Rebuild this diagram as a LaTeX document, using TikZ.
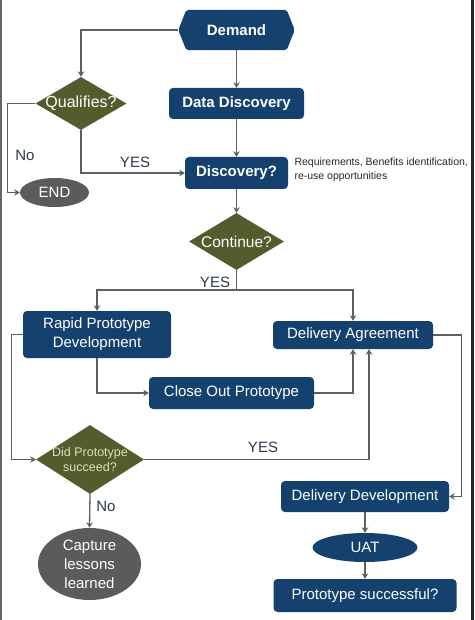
\documentclass[tikz,border=0pt]{standalone}
\usepackage{fontspec}
\setmainfont{Liberation Sans}
\usetikzlibrary{shapes.geometric,arrows.meta}
\definecolor{navy}{HTML}{14416E}
\definecolor{olive}{HTML}{565B2E}
\definecolor{ellgray}{HTML}{5A5B5D}
\definecolor{linegray}{HTML}{5F5F5F}
\definecolor{lblcol}{HTML}{2E3A4C}
\definecolor{lighttxt}{HTML}{DCE0B8}
\tikzset{
  box/.style={fill=navy, rounded corners=4pt, inner sep=0pt, text=white,
    font=\fontsize{15}{19}\selectfont, align=center},
  boldbox/.style={box, font=\bfseries\fontsize{15}{19}\selectfont},
  diam/.style={diamond, fill=olive, inner sep=0pt},
  oval/.style={ellipse, fill=ellgray, inner sep=0pt, text=white,
    font=\fontsize{15}{19}\selectfont, align=center},
  ovalblue/.style={oval, fill=navy},
  dtext/.style={text=white, font=\fontsize{15.5}{19}\selectfont, align=center},
  lbl/.style={text=lblcol, font=\fontsize{15}{18}\selectfont},
  arr/.style={draw=linegray, line width=1.3pt, -{Stealth[length=5.5pt,width=6.5pt]}},
  conn/.style={draw=linegray, line width=1.3pt},
}
\begin{document}
\begin{tikzpicture}[x=1pt,y=-1pt]
\useasboundingbox (0,0) rectangle (474,620);
\fill[white] (0,0) rectangle (474,620);
\fill[gray!80!black] (0,0) rectangle (2,620);
\fill[black!85] (471,0) rectangle (474,620);

% Demand (pointed on both sides)
\path node[minimum width=116pt, minimum height=40pt, inner sep=0pt] (demand) at (236.5,30) {};
\fill[navy, rounded corners=2pt] (demand.west) -- ([xshift=8pt]demand.north west) -- ([xshift=-8pt]demand.north east) -- (demand.east) -- ([xshift=-8pt]demand.south east) -- ([xshift=8pt]demand.south west) -- cycle;
\node[text=white, font=\bfseries\fontsize{15}{19}\selectfont] (demandtxt) at (demand) {Demand};

\node[boldbox, minimum width=135pt, minimum height=31pt] (dd) at (236.5,103.5) {Data Discovery};
\node[boldbox, minimum width=103pt, minimum height=32pt] (disc) at (236.5,173) {Discovery?};
\node[anchor=west, align=left, font=\fontsize{10.5}{13.5}\selectfont, text=black!85] (note) at (291,170) {Requirements, Benefits identification,\\re-use opportunities};

\node[diam, minimum width=91pt, minimum height=53pt] (qual) at (81,103.5) {};
\node[dtext, font=\fontsize{16}{19}\selectfont] (qualtxt) at (qual) {Qualifies?};
\node[oval, minimum width=69pt, minimum height=29pt] (endn) at (54.5,192.5) {END};

\node[diam, minimum width=95pt, minimum height=57pt] (cont) at (236.5,241.5) {};
\node[dtext] (conttxt) at (cont) {Continue?};
\coordinate (split) at (236.5,290);

\node[box, minimum width=148pt, minimum height=47pt] (rapid) at (97,334.5) {Rapid Prototype\\Development};
\node[box, minimum width=160pt, minimum height=28pt] (da) at (353,335) {Delivery Agreement};
\node[box, minimum width=165pt, minimum height=32pt] (close) at (231.5,393) {Close Out Prototype};

\node[diam, minimum width=108pt, minimum height=69pt] (did) at (90,459.5) {};
\node[dtext, text=lighttxt, font=\fontsize{12.5}{15}\selectfont] (didtxt) at (did) {Did Prototype\\succeed?};
\node[oval, minimum width=103pt, minimum height=72pt] (cap) at (89.5,564) {Capture\\lessons\\learned};

\node[box, minimum width=168pt, minimum height=31pt] (ddev) at (365,496.5) {Delivery Development};
\node[ovalblue, minimum width=105pt, minimum height=29pt] (uat) at (365,547.5) {UAT};
\node[box, minimum width=183pt, minimum height=33pt] (ps) at (365,595.5) {Prototype successful?};

% connectors
\draw[arr] (demand.west) -| (qual.north);
\draw[arr] (demand.south) -- (dd.north);
\draw[arr] (dd.south) -- (disc.north);
\draw[arr] (qual.south) |- (disc.west);
\draw[arr] (qual.west) -- ++(-27.5,0) |- (endn.west);
\draw[arr] (disc.south) -- (cont.north);
\draw[conn] (cont.south) -- (split);
\draw[arr] (split) -| (rapid.north);
\draw[arr] (split) -| (da.north);
\draw[arr] (rapid.south) |- (close.west);
\draw[arr] (close.east) -| (da.south);
\draw[arr] (rapid.west) -- ++(-11,0) |- (did.west);
\draw[arr] (did.east) -| ([xshift=16pt]da.south);
\draw[arr] (da.east) -- ++(28,0) |- (ddev.east);
\draw[arr] (ddev.south) -- (uat.north);
\draw[arr] (uat.south) -- (ps.north);
\draw[arr] (did.south) -- (cap.north);

% labels
\node[lbl] (yes1) at (135,162) {YES};
\node[lbl] (no1) at (25,155) {No};
\node[lbl] (yes2) at (215,282) {YES};
\node[lbl] (yes3) at (263,447) {YES};
\node[lbl] (no2) at (106,506) {No};
\end{tikzpicture}
\end{document}
